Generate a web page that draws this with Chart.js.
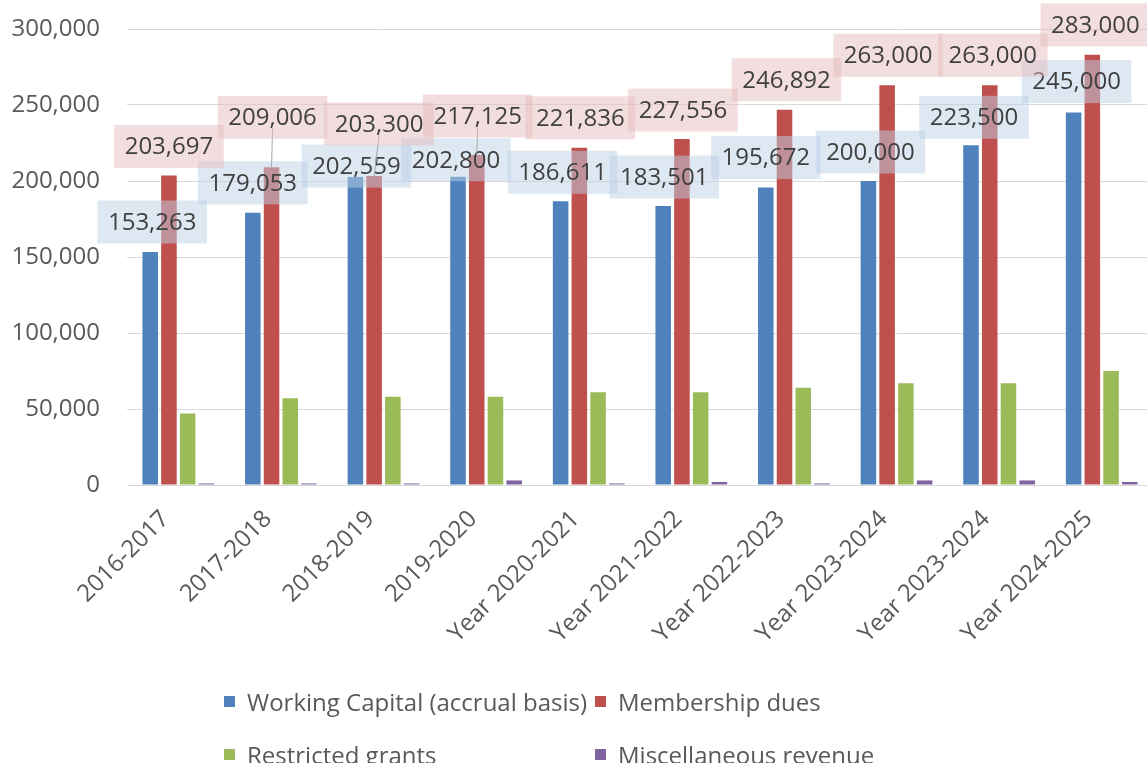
<!DOCTYPE html>
<html>
<head>
<meta charset="utf-8">
<script src="https://cdn.jsdelivr.net/npm/chart.js@4"></script>
<style>
	body { margin: 0; background: #fff; width: 1147px; height: 763px; overflow: hidden; position: relative; }
	#wrap { position: absolute; left: 0; top: 0; width: 1153px; height: 763px; }
	#legend { position: absolute; left: 224px; top: 688px; display: grid; grid-template-columns: 371px 300px; row-gap: 27px;
		font: 24px "Open Sans", sans-serif; color: #595959; }
	#legend .item { display: flex; align-items: center; white-space: nowrap; height: 26px; }
	#legend .box { width: 11px; height: 11px; margin-right: 12px; }
</style>
</head>
<body>
<div id="wrap"><canvas id="revenueChart" width="1153" height="763"></canvas></div>
<div id="legend"></div>
<script>
//prettier-ignore
const categories = ["2016-2017", "2017-2018", "2018-2019", "2019-2020", "Year 2020-2021", "Year 2021-2022", "Year 2022-2023", "Year 2023-2024", "Year 2023-2024", "Year 2024-2025"];
const workingCapital = [153263, 179053, 202559, 202800, 186611, 183501, 195672, 200000, 223500, 245000];
const membershipDues = [203697, 209006, 203300, 217125, 221836, 227556, 246892, 263000, 263000, 283000];
const restrictedGrants = [47000, 57000, 58000, 58000, 61000, 61000, 64000, 67000, 67000, 75000];
const miscRevenue = [1000, 1000, 1000, 3000, 1000, 2000, 1000, 3000, 3000, 2000];
const yMax = 300000;
const yStep = 50000;

// where each data label sits relative to its bar top (labels were dragged around in the original)
const blueLabelShift = [[2, -30], [0, -30], [1, -11], [-2, -17], [2, -29], [1, -29], [0, -30], [2, -29], [3, -28], [3, -31]];
const redLabelShift = [[0, -29], [1, -50], [5, -52], [1, -39], [1, -30], [1, -29], [2, -30], [1, -30], [3, -30], [3, -30]];
const redLeader = [false, true, true, true, false, false, false, false, false, false];

const fmt = new Intl.NumberFormat("en-US");
const FONT = '"Open Sans", sans-serif';

const labelBoxes = {
	id: "labelBoxes",
	afterDatasetsDraw(chart) {
		const ctx = chart.ctx;
		ctx.save();
		ctx.font = "24px " + FONT;
		ctx.textAlign = "center";
		ctx.textBaseline = "middle";
		const drawSet = (dsIndex, shifts, fill, leaders) => {
			const meta = chart.getDatasetMeta(dsIndex);
			const values = chart.data.datasets[dsIndex].data;
			meta.data.forEach((bar, i) => {
				const text = fmt.format(values[i]);
				const cx = bar.x + shifts[i][0];
				const cy = bar.y + shifts[i][1];
				const w = ctx.measureText(text).width + 21;
				const h = 43;
				if (leaders && leaders[i]) {
					ctx.strokeStyle = "#a6a6a6";
					ctx.lineWidth = 1;
					ctx.beginPath();
					ctx.moveTo(cx, cy + 11);
					ctx.lineTo(bar.x, bar.y);
					ctx.stroke();
				}
				ctx.fillStyle = fill;
				ctx.fillRect(cx - w / 2, cy - h / 2, w, h);
				ctx.fillStyle = "#404040";
				ctx.fillText(text, cx, cy + 1);
			});
		};
		drawSet(0, blueLabelShift, "rgba(189, 209, 231, 0.5)", null);
		drawSet(1, redLabelShift, "rgba(229, 189, 189, 0.5)", redLeader);
		ctx.restore();
	},
};

const data = {
	labels: categories,
	datasets: [
		{ label: "Working Capital (accrual basis)", data: workingCapital, backgroundColor: "#4F81BD" },
		{ label: "Membership dues", data: membershipDues, backgroundColor: "#C0504D" },
		{ label: "Restricted grants", data: restrictedGrants, backgroundColor: "#9BBB59" },
		{ label: "Miscellaneous revenue", data: miscRevenue, backgroundColor: "#8064A2" },
	],
};

const config = {
	type: "bar",
	data: data,
	options: {
		responsive: false,
		animation: false,
		datasets: { bar: { categoryPercentage: 0.73, barPercentage: 0.83 } },
		layout: { padding: { top: 29, left: 0, right: 0, bottom: 0 } },
		plugins: { legend: { display: false }, tooltip: { enabled: false } },
		scales: {
			x: {
				grid: { display: false },
				border: { display: false },
				ticks: { color: "#595959", font: { family: FONT, size: 24 }, minRotation: 45, maxRotation: 45, autoSkip: false, padding: 12, labelOffset: -13 },
				afterFit: (scale) => { scale.height = 278; },
			},
			y: {
				min: 0,
				max: yMax,
				grid: { color: "#d9d9d9", drawTicks: false },
				border: { display: false },
				ticks: { stepSize: yStep, color: "#595959", font: { family: FONT, size: 24 }, padding: 27, callback: (v) => fmt.format(v) },
				afterFit: (scale) => {
					scale.width = 127;
					scale.paddingTop = 0;
					scale.paddingBottom = 0;
				},
			},
		},
	},
	plugins: [labelBoxes],
};

const myChart = new Chart(document.getElementById("revenueChart"), config);

const legendEl = document.getElementById("legend");
myChart.data.datasets.forEach((ds) => {
	const item = document.createElement("div");
	item.className = "item";
	item.innerHTML = `<span class="box" style="background:${ds.backgroundColor}"></span><span>${ds.label}</span>`;
	legendEl.appendChild(item);
});
</script>
</body>
</html>
